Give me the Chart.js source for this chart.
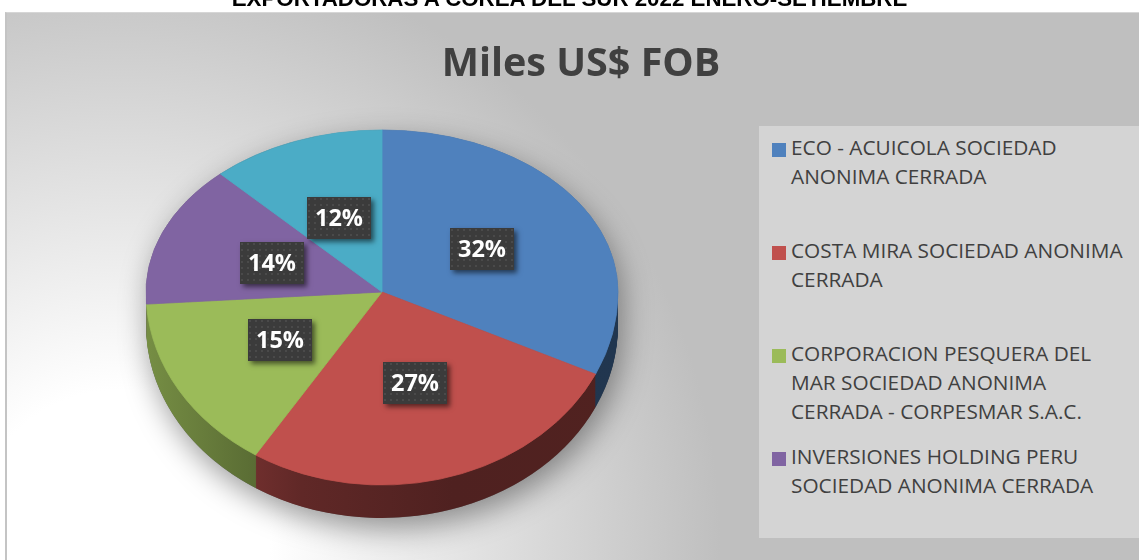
<!DOCTYPE html>
<html lang="es">
<head>
<meta charset="utf-8">
<title>Exportadoras a Corea del Sur</title>
<script src="https://cdn.jsdelivr.net/npm/chart.js@4.4.1/dist/chart.umd.min.js"></script>
<style>
  body { margin: 0; width: 1139px; height: 560px; overflow: hidden; background: #fff; position: relative; font-family: "Open Sans", sans-serif; }
  #marco { position: absolute; left: 5px; top: 12px; width: 1200px; height: 600px; border-left: 2px solid #c4c4c4; border-top: 1px solid #d6d6d6;
    background: radial-gradient(circle at 113px 527px, #ffffff 0px, #ffffff 150px, #bfbfbf 600px); }
  #grafico { position: absolute; left: 0; top: 0; }
  #titulo-sup { position: absolute; left: 0; top: -12px; width: 1139px; text-align: center; font: bold 22.3px/22px "Liberation Sans", Arial, sans-serif; color: #000; white-space: nowrap; }
  #titulo { position: absolute; left: 381px; top: 42px; width: 400px; text-align: center; font: bold 39.5px/39.5px "Open Sans", sans-serif; color: #404040; white-space: nowrap; }
  #leyenda { position: absolute; left: 759px; top: 126px; width: 400px; height: 412px; background: #d4d4d4; overflow: hidden; }
  .item { position: absolute; left: 0; width: 400px; font-size: 20.8px; line-height: 29px; color: #404040; }
  .item .cuadro { position: absolute; left: 13px; top: 10px; width: 14px; height: 14px; }
  .item .texto { position: absolute; left: 32px; top: 0; white-space: nowrap; }
</style>
</head>
<body>
<div id="marco"></div>
<canvas id="grafico" width="1139" height="560"></canvas>
<div id="leyenda"></div>
<div id="titulo-sup">EXPORTADORAS A COREA DEL SUR 2022 ENERO-SETIEMBRE</div>
<div id="titulo">Miles US$ FOB</div>
<script>
const empresas = [
  ["ECO - ACUICOLA SOCIEDAD", "ANONIMA CERRADA"],
  ["COSTA MIRA SOCIEDAD ANONIMA", "CERRADA"],
  ["CORPORACION PESQUERA DEL", "MAR SOCIEDAD ANONIMA", "CERRADA - CORPESMAR S.A.C."],
  ["INVERSIONES HOLDING PERU", "SOCIEDAD ANONIMA CERRADA"],
  ["OTROS"]
];
const valores = [32, 27, 15, 14, 12];
const colores = ['#4f81bd', '#c0504d', '#9bbb59', '#8064a2', '#4bacc6'];

const ESCALA_SUP = 162 / 236;
const ESCALA_INF = 193 / 236;
const PROFUNDIDAD = 33;

function oscurecer(hex, f) {
  const n = parseInt(hex.slice(1), 16);
  const r = Math.round(((n >> 16) & 255) * f);
  const g = Math.round(((n >> 8) & 255) * f);
  const b = Math.round((n & 255) * f);
  return `rgb(${r},${g},${b})`;
}

function trazarPorcion(ctx, arc, escala, dy) {
  const { x, y, startAngle, endAngle, outerRadius } = arc.getProps(['x', 'y', 'startAngle', 'endAngle', 'outerRadius'], true);
  ctx.save();
  ctx.translate(x, y + dy);
  ctx.scale(1, escala);
  ctx.beginPath();
  ctx.moveTo(0, 0);
  ctx.arc(0, 0, outerRadius, startAngle, endAngle);
  ctx.closePath();
  ctx.restore();
}

function crearTrama(ctx) {
  const c = document.createElement('canvas');
  c.width = 6; c.height = 6;
  const t = c.getContext('2d');
  t.fillStyle = '#3b3b3b';
  t.fillRect(0, 0, 6, 6);
  t.fillStyle = '#4a4a4a';
  t.fillRect(1, 1, 2, 2);
  return ctx.createPattern(c, 'repeat');
}

const pie3d = {
  id: 'pie3d',
  beforeDatasetsDraw(chart) {
    const ctx = chart.ctx;
    const arcs = chart.getDatasetMeta(0).data;
    const { x: cx, y: cy, outerRadius: R } = arcs[0].getProps(['x', 'y', 'outerRadius'], true);
    const W = chart.width, H = chart.height;

    // sombra bajo el pastel
    ctx.save();
    ctx.shadowColor = 'rgba(0,0,0,0.4)';
    ctx.shadowBlur = 30;
    ctx.shadowOffsetX = 4;
    ctx.shadowOffsetY = 10;
    ctx.fillStyle = '#666';
    ctx.beginPath();
    ctx.ellipse(cx, cy, R, R * ESCALA_SUP, 0, Math.PI, Math.PI * 2);
    ctx.lineTo(cx + R, cy + PROFUNDIDAD);
    ctx.ellipse(cx, cy + PROFUNDIDAD, R, R * ESCALA_INF, 0, 0, Math.PI);
    ctx.closePath();
    ctx.fill();
    ctx.restore();

    // costado
    const gradientes = colores.map(c => {
      const g = ctx.createLinearGradient(cx - R, 0, cx + R, 0);
      g.addColorStop(0, oscurecer(c, 0.76));
      g.addColorStop(0.33, oscurecer(c, 0.5));
      g.addColorStop(0.65, oscurecer(c, 0.41));
      g.addColorStop(1, oscurecer(c, 0.42));
      return g;
    });
    for (let d = PROFUNDIDAD; d >= 1; d--) {
      ctx.save();
      ctx.beginPath();
      ctx.rect(0, cy + d, W, H);
      ctx.clip();
      arcs.forEach((arc, i) => {
        trazarPorcion(ctx, arc, ESCALA_INF, d);
        ctx.fillStyle = gradientes[i];
        ctx.fill();
      });
      ctx.restore();
    }

    // cara superior
    [[ESCALA_SUP, 0, cy], [ESCALA_INF, cy, H]].forEach(([s, y0, y1]) => {
      ctx.save();
      ctx.beginPath();
      ctx.rect(0, y0, W, y1 - y0);
      ctx.clip();
      arcs.forEach((arc, i) => {
        trazarPorcion(ctx, arc, s, 0);
        ctx.fillStyle = colores[i];
        ctx.strokeStyle = colores[i];
        ctx.lineWidth = 0.8;
        ctx.fill();
        ctx.stroke();
      });
      ctx.restore();
    });
    return false;
  },
  afterDraw(chart) {
    const ctx = chart.ctx;
    const arcs = chart.getDatasetMeta(0).data;
    const total = valores.reduce((a, b) => a + b, 0);
    const trama = crearTrama(ctx);
    arcs.forEach((arc, i) => {
      const { x, y, startAngle, endAngle, outerRadius } = arc.getProps(['x', 'y', 'startAngle', 'endAngle', 'outerRadius'], true);
      const m = (startAngle + endAngle) / 2;
      const s = Math.sin(m) < 0 ? ESCALA_SUP : ESCALA_INF;
      const px = x + Math.cos(m) * outerRadius * 0.5;
      const py = y + Math.sin(m) * outerRadius * 0.49 * s;
      const w = 64, h = 42;
      const bx = Math.round(px - w / 2), by = Math.round(py - h / 2);
      ctx.save();
      ctx.shadowColor = 'rgba(0,0,0,0.55)';
      ctx.shadowBlur = 5;
      ctx.shadowOffsetX = 3;
      ctx.shadowOffsetY = 3;
      ctx.fillStyle = '#3b3b3b';
      ctx.fillRect(bx, by, w, h);
      ctx.restore();
      ctx.save();
      ctx.translate(bx, by);
      ctx.fillStyle = trama;
      ctx.fillRect(0, 0, w, h);
      ctx.restore();
      ctx.fillStyle = '#ffffff';
      ctx.font = 'bold 23.5px "Open Sans"';
      ctx.textAlign = 'center';
      ctx.textBaseline = 'middle';
      ctx.fillText(Math.round(valores[i] / total * 100) + '%', bx + w / 2, by + h / 2 + 1);
    });
  }
};

new Chart(document.getElementById('grafico'), {
  type: 'pie',
  data: {
    labels: empresas,
    datasets: [{
      data: valores,
      backgroundColor: colores,
      borderWidth: 0
    }]
  },
  options: {
    responsive: false,
    animation: false,
    devicePixelRatio: 1,
    events: [],
    layout: { padding: { left: 146, right: 521, top: 56, bottom: 32 } },
    plugins: {
      legend: { display: false },
      tooltip: { enabled: false }
    }
  },
  plugins: [pie3d]
});

const leyenda = document.getElementById('leyenda');
empresas.forEach((lineas, i) => {
  const item = document.createElement('div');
  item.className = 'item';
  item.style.top = (7 + i * 103) + 'px';
  const cuadro = document.createElement('div');
  cuadro.className = 'cuadro';
  cuadro.style.background = colores[i];
  const texto = document.createElement('div');
  texto.className = 'texto';
  texto.innerHTML = lineas.join('<br>');
  item.appendChild(cuadro);
  item.appendChild(texto);
  leyenda.appendChild(item);
});
</script>
</body>
</html>
